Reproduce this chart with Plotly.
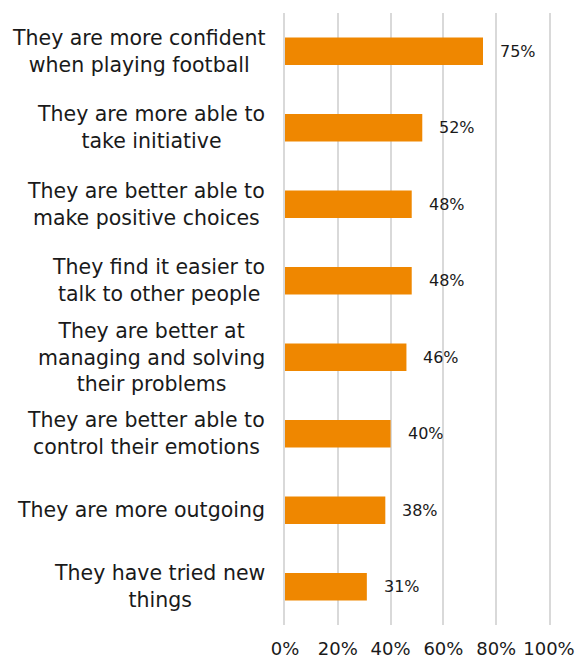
import plotly.graph_objects as go

categories = [
    "They are more confident<br>when playing football",
    "They are more able to<br>take initiative",
    "They are better able to<br>make positive choices",
    "They find it easier to<br>talk to other people",
    "They are better at<br>managing and solving<br>their problems",
    "They are better able to<br>control their emotions",
    "They are more outgoing",
    "They have tried new<br>things",
]
values = [75, 52, 48, 48, 46, 40, 38, 31]
x_ticks = [0, 20, 40, 60, 80, 100]
x_tick_labels = ["0%", "20%", "40%", "60%", "80%", "100%"]

FONT = "DejaVu Sans"
ORANGE = "#EF8700"
GRID = "#D9D9D9"

fig = go.Figure(
    go.Bar(
        x=values,
        y=categories,
        orientation="h",
        marker=dict(color=ORANGE, line=dict(width=0)),
        width=0.36,
        hoverinfo="skip",
    )
)

# value labels just past the bar ends
for cat, v in zip(categories, values):
    fig.add_annotation(
        x=v, y=cat, xref="x", yref="y",
        text=f"{v}%", showarrow=False,
        xanchor="left", xshift=15,
        font=dict(family=FONT, size=16, color="#1a1a1a"),
    )

# category labels, centred line by line, right of the label column
for cat in categories:
    fig.add_annotation(
        x=0, y=cat, xref="paper", yref="y",
        text=cat, showarrow=False,
        xanchor="right", xshift=-18, align="center",
        font=dict(family=FONT, size=20.5, color="#1a1a1a"),
    )

fig.update_layout(
    width=577, height=659,
    margin=dict(l=285, r=28, t=13, b=34),
    plot_bgcolor="white", paper_bgcolor="white",
    showlegend=False,
    xaxis=dict(
        range=[0, 100],
        tickvals=x_ticks, ticktext=x_tick_labels,
        showgrid=True, gridcolor=GRID, gridwidth=2,
        zeroline=False, showline=False,
        ticks="outside", ticklen=7, tickcolor="rgba(0,0,0,0)",
        tickfont=dict(family=FONT, size=18, color="#1a1a1a"),
        automargin=False,
        fixedrange=True,
    ),
    yaxis=dict(
        autorange="reversed",
        showticklabels=False, showgrid=False,
        zeroline=False,
        showline=True, mirror=True, linecolor=GRID, linewidth=2,
        automargin=False,
        fixedrange=True,
    ),
)

fig.write_html("out.html")
